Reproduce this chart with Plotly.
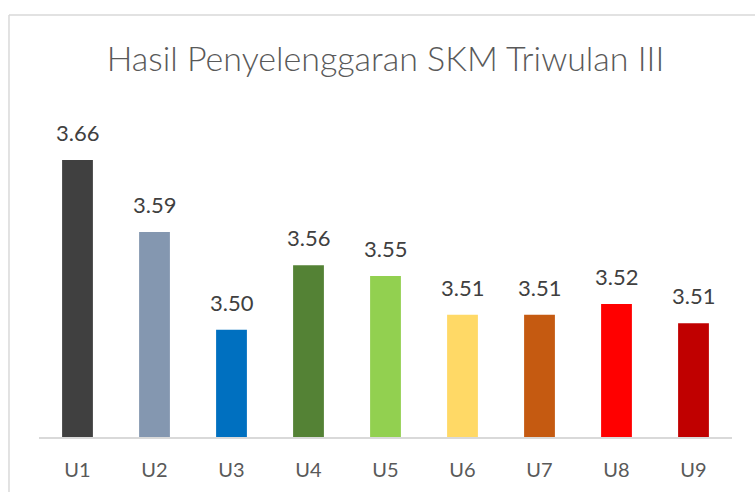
import plotly.graph_objects as go

categories = ["U1", "U2", "U3", "U4", "U5", "U6", "U7", "U8", "U9"]
values = [3.658, 3.591, 3.500, 3.560, 3.550, 3.514, 3.514, 3.524, 3.506]
colors = ["#404040", "#8497B0", "#0070C0", "#548235", "#92D050",
          "#FFD966", "#C55A11", "#FF0000", "#C00000"]
title_text = "Hasil Penyelenggaran SKM Triwulan III"
y_range = [3.4, 3.7]

FONT = "Lato"

fig = go.Figure()
fig.add_trace(go.Bar(
    x=categories,
    y=values,
    marker=dict(color=colors, line=dict(width=0)),
    hoverinfo="skip",
))

for c, v in zip(categories, values):
    fig.add_annotation(
        x=c, y=v, text=f"{v:.2f}", showarrow=False,
        xref="x", yref="y", yanchor="bottom", yshift=12,
        font=dict(family=FONT, size=22, color="#404040"),
    )

# chart frame (light gray border)
fig.add_shape(type="line", xref="paper", yref="paper",
              x0=-0.0433, x1=-0.0433, y0=-0.4, y1=1.3106,
              line=dict(color="#D9D9D9", width=1.5))
fig.add_shape(type="line", xref="paper", yref="paper",
              x0=-0.0433, x1=1.2, y0=1.3106, y1=1.3106,
              line=dict(color="#D9D9D9", width=1.5))

fig.update_layout(
    width=755, height=492,
    margin=dict(l=39, r=23, t=115, b=55),
    paper_bgcolor="white", plot_bgcolor="white",
    bargap=0.6,
    showlegend=False,
    title=dict(text=title_text, x=0.5, xref="paper", xanchor="center",
               y=0.88, yref="container", yanchor="middle",
               font=dict(family=FONT, size=34, color="#595959", weight=300)),
    xaxis=dict(showline=True, linecolor="#D9D9D9", linewidth=1.5,
               showgrid=False, zeroline=False, ticks="",
               tickfont=dict(family=FONT, size=20, color="#595959"),
               ticklabelstandoff=14, fixedrange=True),
    yaxis=dict(range=y_range, visible=False, showgrid=False,
               zeroline=False, fixedrange=True),
)

fig.write_html("out.html",
               config={"displayModeBar": False, "staticPlot": True},
               post_script="document.body.style.margin='0';document.body.style.overflow='hidden';")
